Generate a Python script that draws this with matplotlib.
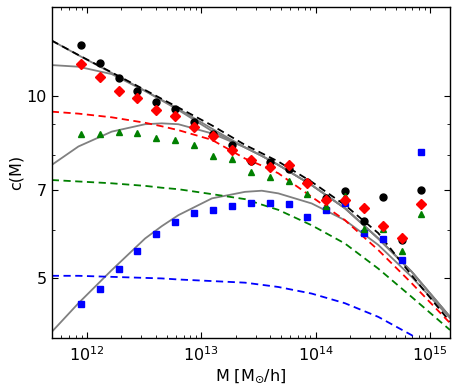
import numpy as np
import matplotlib
matplotlib.use('Agg')
import matplotlib.pyplot as plt
from matplotlib.ticker import FixedLocator, NullFormatter, LogLocator

plt.rcParams['mathtext.default'] = 'regular'

# binned measurements (mass bin centres, M_sun/h)
M_bins = [8.87e11, 1.30e12, 1.90e12, 2.77e12, 4.06e12, 5.93e12, 8.67e12, 1.27e13,
          1.85e13, 2.71e13, 3.96e13, 5.79e13, 8.47e13, 1.24e14, 1.81e14, 2.65e14,
          3.87e14, 5.66e14, 8.28e14]
c_black = [12.16, 11.35, 10.71, 10.20, 9.77, 9.52, 9.05, 8.65, 8.30, 7.80,
           7.77, 7.57, 7.21, 6.79, 6.97, 6.22, 6.81, 5.78, 6.99]
c_red = [11.28, 10.74, 10.19, 9.94, 9.48, 9.26, 8.89, 8.59, 8.14, 7.83,
         7.62, 7.68, 7.17, 6.74, 6.72, 6.53, 6.09, 5.83, 6.62]
c_green = [8.66, 8.66, 8.71, 8.70, 8.51, 8.47, 8.30, 7.95, 7.86, 7.49,
           7.35, 7.23, 6.88, 6.57, 6.82, 6.02, 6.02, 5.53, 6.38]
c_blue = [4.53, 4.79, 5.17, 5.54, 5.90, 6.18, 6.41, 6.48, 6.58, 6.65,
          6.66, 6.62, 6.30, 6.47, 6.64, 5.93, 5.80, 5.36, 8.08]

# model curves
M_curve = [4.94e11, 8.45e11, 1.65e12, 3.23e12, 4.52e12, 6.31e12, 1.24e13, 2.41e13,
           3.38e13, 4.71e13, 9.22e13, 1.80e14, 3.52e14, 6.89e14, 1.49e15]
c_model_black = [12.35, 11.69, 10.94, 10.23, 9.89, 9.57, 8.94, 8.30, 8.04, 7.79,
                 7.21, 6.60, 5.93, 5.05, 4.23]
c_model_red = [9.42, 9.35, 9.22, 9.03, 8.91, 8.78, 8.46, 7.88, 7.67, 7.45,
               6.81, 6.23, 5.56, 4.90, 4.21]
c_model_green = [7.26, 7.22, 7.17, 7.10, 7.05, 7.01, 6.88, 6.75, 6.61, 6.48,
                 6.11, 5.70, 5.18, 4.65, 4.10]
M_curve_blue = [4.94e11, 8.45e11, 1.65e12, 3.23e12, 4.52e12, 6.31e12, 1.24e13, 2.41e13,
                3.38e13, 4.71e13, 9.22e13, 1.80e14, 3.52e14, 6.89e14, 7.87e14]
c_model_blue = [5.04, 5.04, 5.02, 5.00, 4.99, 4.97, 4.94, 4.91, 4.87, 4.83,
                4.71, 4.54, 4.31, 4.02, 3.95]

gray_a = [12.35, 11.68, 10.92, 10.20, 9.85, 9.52, 8.83, 8.22, 7.96, 7.69,
          7.12, 6.52, 5.81, 5.12, 4.31]
gray_b = [11.25, 11.18, 10.87, 10.19, 9.83, 9.48, 8.75, 8.22, 7.96, 7.69,
          7.12, 6.52, 5.81, 5.12, 4.31]
gray_c = [7.69, 8.25, 8.73, 8.98, 9.01, 8.98, 8.67, 8.22, 7.96, 7.69,
          7.12, 6.52, 5.81, 5.12, 4.31]
gray_d = [4.07, 4.54, 5.15, 5.81, 6.09, 6.35, 6.77, 6.94, 6.97, 6.90,
          6.64, 6.23, 5.67, 5.02, 4.29]

fig = plt.figure(figsize=(4.58, 3.89), dpi=100)
ax = fig.add_axes([0.113, 0.130, 0.8695, 0.8512])

dash = (0, (4, 2.5))
for g in [gray_a, gray_b, gray_c, gray_d]:
    ax.plot(M_curve, g, color='gray', lw=1.3)
ax.plot(M_curve, c_model_black, color='k', lw=1.3, linestyle=dash)
ax.plot(M_curve, c_model_red, color='r', lw=1.3, linestyle=dash)
ax.plot(M_curve, c_model_green, color='g', lw=1.3, linestyle=dash)
ax.plot(M_curve_blue, c_model_blue, color='b', lw=1.3, linestyle=dash)

ax.plot(M_bins, c_black, 'o', color='k', mec='k', ms=5)
ax.plot(M_bins, c_blue, 's', color='b', mec='b', ms=4.8)
ax.plot(M_bins, c_green, '^', color='g', mec='g', ms=5)
ax.plot(M_bins, c_red, 'D', color='r', mec='r', ms=4.6)

ax.set_xscale('log')
ax.set_yscale('log')
ax.set_xlim(4.94e11, 1.49e15)
ax.set_ylim(3.97, 14.02)

ax.xaxis.set_major_locator(LogLocator(base=10, numticks=10))
ax.xaxis.set_minor_locator(LogLocator(base=10, subs=np.arange(2, 10), numticks=20))
ax.yaxis.set_major_locator(FixedLocator([5, 7, 10]))
ax.yaxis.set_minor_locator(FixedLocator([6, 8, 9]))
ax.set_yticklabels(['5', '7', '10'])
ax.yaxis.set_minor_formatter(NullFormatter())

ax.tick_params(which='both', direction='in', top=True, right=True, labelsize=11.5)
ax.tick_params(which='major', length=4, width=0.8)
ax.tick_params(which='minor', length=2, width=0.6)
ax.tick_params(axis='x', pad=5)
for s in ax.spines.values():
    s.set_linewidth(1.0)

ax.set_xlabel(r'M [M$_{\odot}$/h]', fontsize=11.5, labelpad=2)
ax.set_ylabel('c(M)', fontsize=11.5, labelpad=2)

fig.savefig('out.png', dpi=100)
